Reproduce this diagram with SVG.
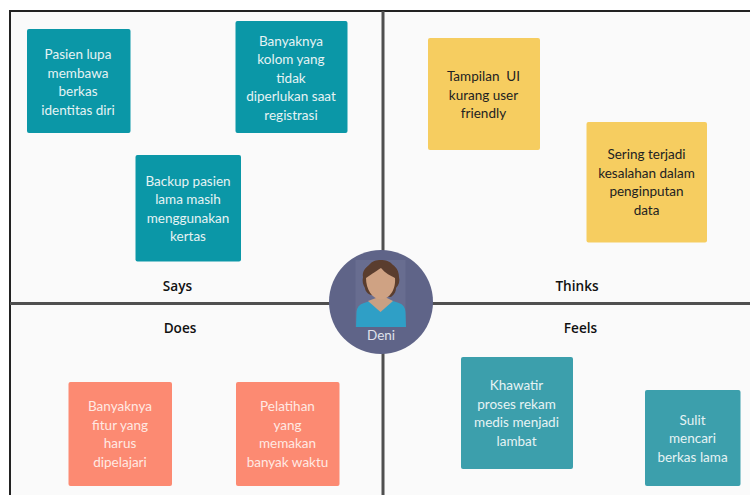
<svg xmlns="http://www.w3.org/2000/svg" width="750" height="495" viewBox="0 0 750 495">
<style>
text{font-family:Lato,"Open Sans",sans-serif;font-size:13.5px;text-anchor:middle;white-space:pre}
.w{fill:#e6f3f4}.d{fill:#222}.p{fill:#ffe9e3}
.h{font-family:"Open Sans",sans-serif;font-size:13.6px;font-weight:600;fill:#111}
.t1{fill:#0b97a7}.t2{fill:#3c9fac}.y{fill:#f6cd60}.o{fill:#fc8a72}
.l{stroke:#4f4f4f;stroke-width:3;fill:none}
</style>
<rect width="750" height="495" fill="#fff"/>
<rect x="10" y="11" width="740" height="484" fill="#fafafa"/>
<g id="connectors">
<path d="M10 495V11H750" fill="none" stroke="#222" stroke-width="2"/>
<path class="l" d="M383 11V495M10 303.500H750"/>
</g>
<g id="says"><text class="h" x="177.500" y="291">Says</text></g>
<g id="thinks"><text class="h" x="577" y="291">Thinks</text></g>
<g id="does"><text class="h" x="180" y="333">Does</text></g>
<g id="feels"><text class="h" x="580.500" y="333">Feels</text></g>
<g id="n1"><rect class="t1" x="27" y="29" width="103.500" height="104" rx="2"/><text class="w" x="78" y="59">Pasien lupa</text><text class="w" x="78" y="77.500">membawa</text><text class="w" x="78" y="96">berkas</text><text class="w" x="78" y="114.500">identitas diri</text></g>
<g id="n2"><rect class="t1" x="235.500" y="21" width="112" height="112" rx="2"/><text class="w" x="291" y="45.500">Banyaknya</text><text class="w" x="291" y="64">kolom yang</text><text class="w" x="291" y="82.500">tidak</text><text class="w" x="291" y="101">diperlukan saat</text><text class="w" x="291" y="119.500">registrasi</text></g>
<g id="n3"><rect class="t1" x="135.500" y="155" width="105.500" height="106.500" rx="2"/><text class="w" x="188" y="185.500">Backup pasien</text><text class="w" x="188" y="204">lama masih</text><text class="w" x="188" y="222.500">menggunakan</text><text class="w" x="188" y="241">kertas</text></g>
<g id="n4"><rect class="y" x="428" y="38" width="112" height="112" rx="2"/><text class="d" x="483.500" y="81">Tampilan  UI</text><text class="d" x="483.500" y="99.500">kurang user</text><text class="d" x="483.500" y="118">friendly</text></g>
<g id="n5"><rect class="y" x="586.500" y="122" width="120.500" height="120.500" rx="2"/><text class="d" x="646.500" y="159">Sering terjadi</text><text class="d" x="646.500" y="177.500">kesalahan dalam</text><text class="d" x="646.500" y="196">penginputan</text><text class="d" x="646.500" y="214.500">data</text></g>
<g id="n6"><rect class="o" x="68.500" y="382" width="103.500" height="104" rx="2"/><text class="p" x="120" y="411">Banyaknya</text><text class="p" x="120" y="429.500">fitur yang</text><text class="p" x="120" y="448">harus</text><text class="p" x="120" y="466.500">dipelajari</text></g>
<g id="n7"><rect class="o" x="236" y="382" width="103.500" height="104" rx="2"/><text class="p" x="287.500" y="411">Pelatihan</text><text class="p" x="287.500" y="429.500">yang</text><text class="p" x="287.500" y="448">memakan</text><text class="p" x="287.500" y="466.500">banyak waktu</text></g>
<g id="n8"><rect class="t2" x="461" y="357" width="112" height="112" rx="2"/><text class="w" x="516.500" y="390">Khawatir</text><text class="w" x="516.500" y="408.500">proses rekam</text><text class="w" x="516.500" y="427">medis menjadi</text><text class="w" x="516.500" y="445.500">lambat</text></g>
<g id="n9"><rect class="t2" x="645" y="390" width="95.500" height="96" rx="2"/><text class="w" x="692.500" y="424.500">Sulit</text><text class="w" x="692.500" y="443">mencari</text><text class="w" x="692.500" y="461.500">berkas lama</text></g>
<g id="persona">
<circle cx="381" cy="302" r="52" fill="#5f6488"/>
<rect x="355.500" y="260" width="50" height="67" fill="#686d90"/>
<path d="M356 327L356.500 312Q357 305 364 303L376 299H387L399 303Q405 305 405.500 312L406 327Z" fill="#2f9fc6"/>
<path d="M368 301L376 298H387L393 301L380.500 312Z" fill="#c9a083"/>
<path d="M381 260C376 260 372 261 369 265C365 268 362 272 363 277C362 281 363 285 365 288C365 291 368 294 371 295L391 297C395 294 396 291 396 288C399 285 400 281 399 277C399 271 396 267 393 265C390 261 385 260 381 260Z" fill="#5a3d2e"/>
<path d="M381 268C378 270 372 274 366 278C366 289 372 299 381 299.500C390 299 396 289 395 278C391 276 385 273 381 268Z" fill="#cfa283"/>
<text x="381" y="340" style="fill:#dfe1ea">Deni</text>
</g>
</svg>
